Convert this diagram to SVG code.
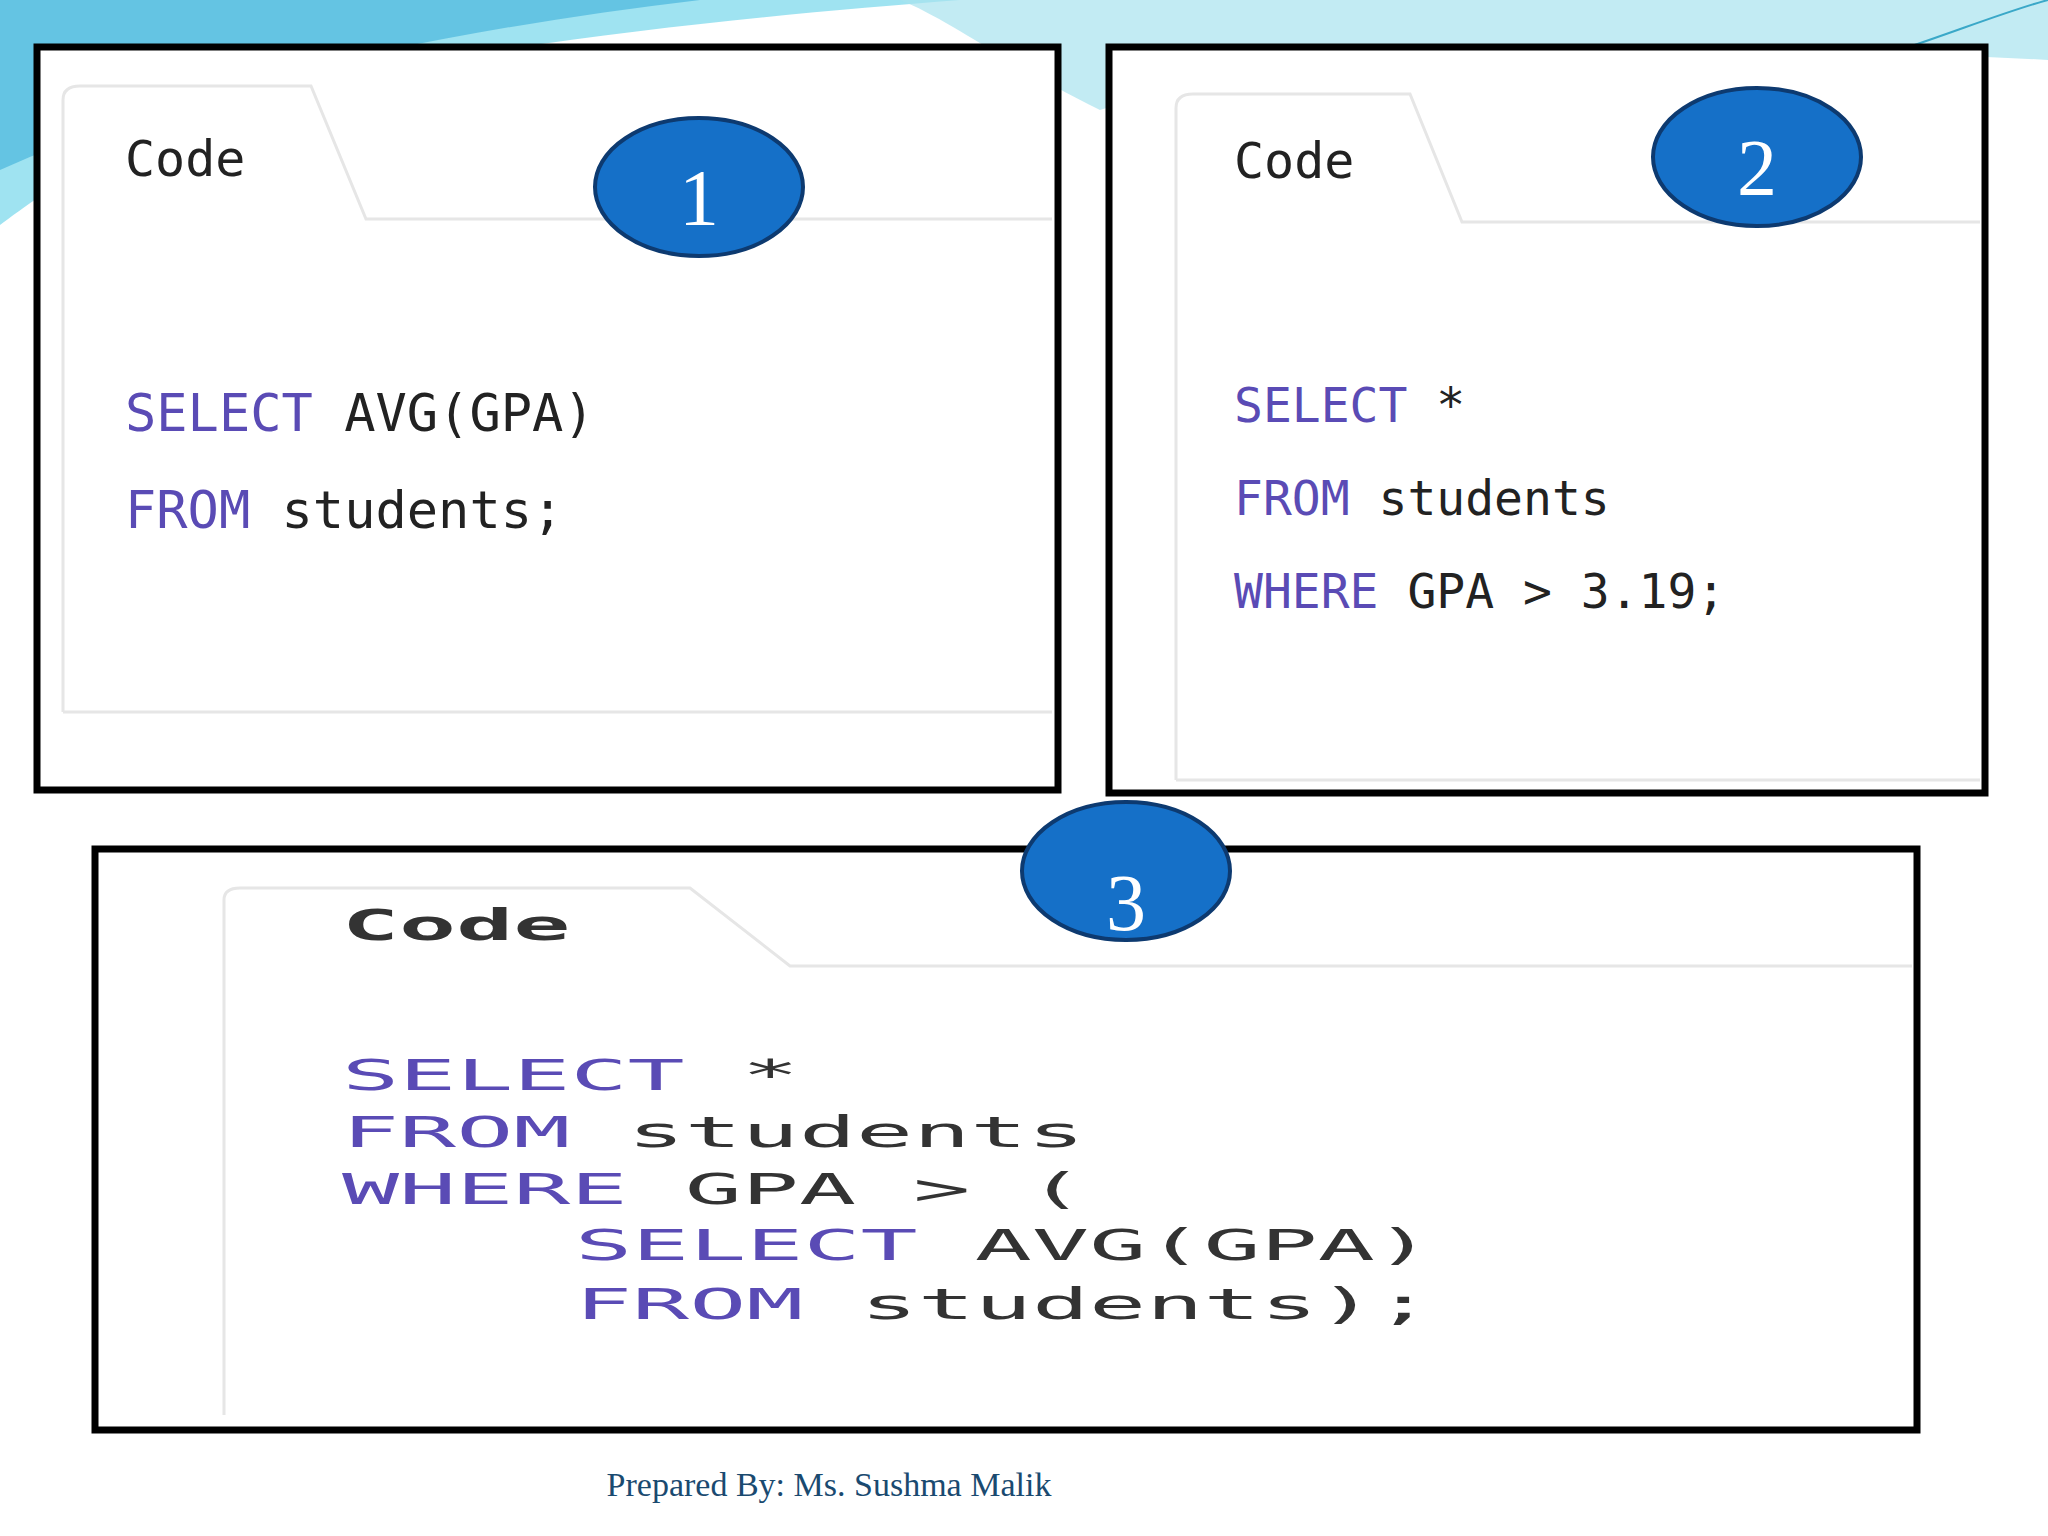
<svg xmlns="http://www.w3.org/2000/svg" width="2048" height="1536" viewBox="0 0 2048 1536">
<style>
.frame{fill:#fff;stroke:#000;stroke-width:7}
.tab{fill:none;stroke:#e6e6e6;stroke-width:3}
.lbl{font-family:"DejaVu Sans Mono",monospace;fill:#222}
.kw{fill:#5a4bb5}
.bub{fill:#1570c8;stroke:#0d3a70;stroke-width:4}
.num{font-family:"Liberation Serif",serif;font-size:80px;fill:#fff;text-anchor:middle}
.wide{font-family:"DejaVu Sans Mono",monospace;font-size:42px;fill:#333}
</style>
<rect width="2048" height="1536" fill="#fff"/>
<g id="background">
<path d="M0 0 H960 C700 20 300 60 120 150 C60 180 20 210 0 225 Z" fill="#5fd0e8" opacity="0.6"/>
<path d="M0 0 H700 C450 30 200 80 0 170 Z" fill="#2aa6d6" opacity="0.5"/>
<path d="M900 0 H2048 V60 C1700 40 1300 50 1100 110 C1000 60 950 20 900 0 Z" fill="#a8e2ee" opacity="0.7"/>
<path d="M1900 50 C1960 30 2010 10 2048 0" stroke="#3aa8c8" stroke-width="2" fill="none"/>
</g>
<g id="box1">
<rect class="frame" x="37" y="47" width="1021" height="743"/>
<path class="tab" d="M63 712 V100 Q63 86 80 86 H311 L366 219 H1052"/>
<path class="tab" d="M63 712 H1052"/>
<text class="lbl" x="125" y="176" font-size="50">Code</text>
<text class="lbl" x="125" y="431" font-size="52"><tspan class="kw">SELECT</tspan> AVG(GPA)</text>
<text class="lbl" x="125" y="528" font-size="52"><tspan class="kw">FROM</tspan> students;</text>
</g>
<g id="box2">
<rect class="frame" x="1109" y="47" width="876" height="746"/>
<path class="tab" d="M1176 780 V108 Q1176 94 1193 94 H1410 L1462 222 H1980"/>
<path class="tab" d="M1176 780 H1980"/>
<text class="lbl" x="1234" y="178" font-size="50">Code</text>
<text class="lbl" x="1234" y="422" font-size="48"><tspan class="kw">SELECT</tspan> *</text>
<text class="lbl" x="1234" y="515" font-size="48"><tspan class="kw">FROM</tspan> students</text>
<text class="lbl" x="1234" y="608" font-size="48"><tspan class="kw">WHERE</tspan> GPA &gt; 3.19;</text>
</g>
<g id="box3">
<rect class="frame" x="95" y="849" width="1822" height="581"/>
<path class="tab" d="M224 1415 V900 Q224 888 240 888 H690 L790 966 H1912"/>
<g transform="scale(2.26,1)">
<text class="wide" x="151.3" y="940" font-weight="bold">Code</text>
<text class="wide" x="151.3" y="1090"><tspan class="kw">SELECT</tspan> *</text>
<text class="wide" x="151.3" y="1147"><tspan class="kw">FROM</tspan> students</text>
<text class="wide" x="151.3" y="1204"><tspan class="kw">WHERE</tspan> GPA &gt; (</text>
<text class="wide" x="254.4" y="1260"><tspan class="kw">SELECT</tspan> AVG(GPA)</text>
<text class="wide" x="254.4" y="1319"><tspan class="kw">FROM</tspan> students);</text>
</g>
</g>
<g id="badge1"><ellipse class="bub" cx="699" cy="187" rx="104" ry="69"/><text class="num" x="699" y="225">1</text></g>
<g id="badge2"><ellipse class="bub" cx="1757" cy="157" rx="104" ry="69"/><text class="num" x="1757" y="195">2</text></g>
<g id="badge3"><ellipse class="bub" cx="1126" cy="871" rx="104" ry="69"/><text class="num" x="1126" y="930" font-size="100">3</text></g>
<g id="connectors"/>
<text x="829" y="1496" font-family="Liberation Serif,serif" font-size="34" fill="#1a4a70" text-anchor="middle">Prepared By: Ms. Sushma Malik</text>
</svg>
